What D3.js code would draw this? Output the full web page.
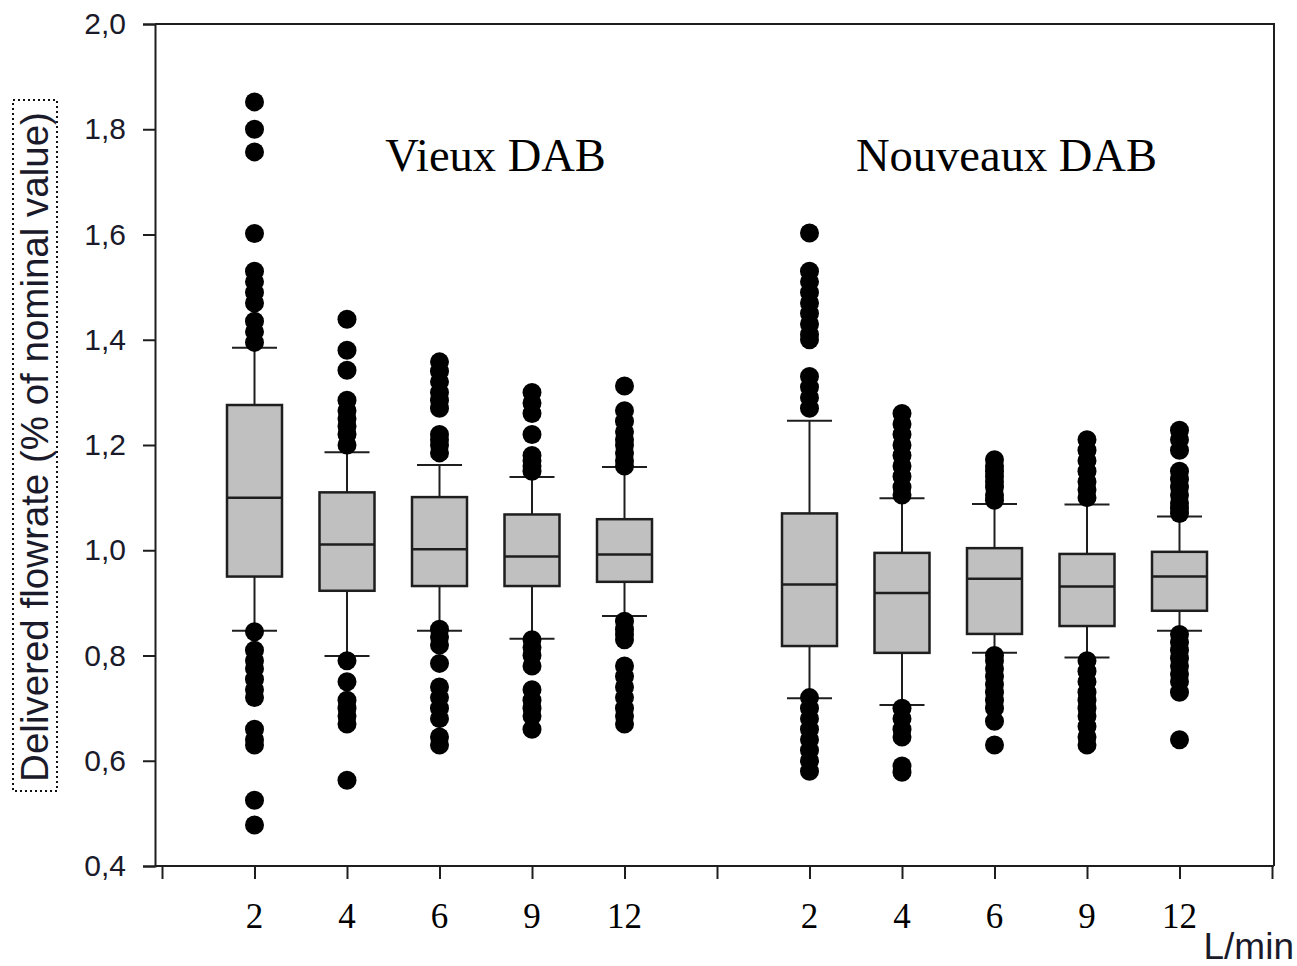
<!DOCTYPE html>
<html>
<head>
<meta charset="utf-8">
<script src="https://cdn.jsdelivr.net/npm/d3@7"></script>
<style>
  body { margin: 0; background: #fff; }
  svg { display: block; }
</style>
</head>
<body>
<svg id="chart" width="1297" height="966"></svg>
<script>
const groups = ["Vieux DAB", "Nouveaux DAB"];
const categories = ["2", "4", "6", "9", "12"];
const yTicks = [0.4, 0.6, 0.8, 1.0, 1.2, 1.4, 1.6, 1.8, 2.0];

// box statistics per group, in category order
const whiskerLow  = [[0.847, 0.799, 0.847, 0.832, 0.875], [0.719, 0.706, 0.805, 0.796, 0.847]];
const q1          = [[0.950, 0.923, 0.932, 0.932, 0.940], [0.818, 0.805, 0.841, 0.856, 0.885]];
const median      = [[1.100, 1.011, 1.002, 0.988, 0.992], [0.935, 0.919, 0.946, 0.931, 0.950]];
const q3          = [[1.276, 1.110, 1.101, 1.068, 1.059], [1.070, 0.995, 1.004, 0.993, 0.997]];
const whiskerHigh = [[1.385, 1.186, 1.162, 1.139, 1.158], [1.246, 1.099, 1.088, 1.087, 1.064]];

const outliers = [
  [
    [1.852, 1.80, 1.757, 1.602, 1.53, 1.51, 1.49, 1.47, 1.435, 1.415, 1.395,
     0.845, 0.81, 0.79, 0.775, 0.755, 0.735, 0.72, 0.66, 0.64, 0.63, 0.525, 0.478],
    [1.439, 1.38, 1.342, 1.285, 1.265, 1.25, 1.235, 1.22, 1.20,
     0.79, 0.75, 0.715, 0.70, 0.685, 0.67, 0.563],
    [1.358, 1.34, 1.32, 1.30, 1.285, 1.27, 1.22, 1.21, 1.20, 1.185,
     0.85, 0.835, 0.82, 0.785, 0.74, 0.72, 0.70, 0.68, 0.645, 0.63],
    [1.30, 1.28, 1.26, 1.22, 1.18, 1.17, 1.16, 1.15,
     0.83, 0.815, 0.80, 0.78, 0.735, 0.715, 0.70, 0.685, 0.66],
    [1.312, 1.265, 1.245, 1.225, 1.21, 1.20, 1.185, 1.17, 1.16,
     0.865, 0.85, 0.84, 0.83, 0.78, 0.76, 0.74, 0.72, 0.70, 0.685, 0.67]
  ],
  [
    [1.603, 1.53, 1.51, 1.49, 1.47, 1.45, 1.43, 1.41, 1.40, 1.33, 1.31, 1.29, 1.27,
     0.72, 0.70, 0.68, 0.66, 0.64, 0.62, 0.60, 0.58],
    [1.26, 1.24, 1.22, 1.20, 1.18, 1.16, 1.14, 1.12, 1.105,
     0.70, 0.68, 0.66, 0.645, 0.59, 0.578],
    [1.172, 1.16, 1.15, 1.14, 1.13, 1.12, 1.105, 1.095,
     0.80, 0.79, 0.775, 0.76, 0.745, 0.73, 0.715, 0.70, 0.675, 0.63],
    [1.21, 1.19, 1.17, 1.15, 1.13, 1.115, 1.10,
     0.79, 0.77, 0.75, 0.73, 0.715, 0.70, 0.685, 0.665, 0.645, 0.63],
    [1.228, 1.21, 1.19, 1.15, 1.135, 1.12, 1.105, 1.09, 1.08, 1.07,
     0.84, 0.825, 0.81, 0.795, 0.78, 0.765, 0.75, 0.73, 0.64]
  ]
];

const svg = d3.select("#chart");
const plotLeft = 155, plotRight = 1274, plotTop = 24, plotBottom = 866;

const x = d3.scaleLinear().domain([0, 12]).range([162, 1272]);
const y = d3.scaleLinear().domain([0.4, 2.0]).range([plotBottom, plotTop]);

const boxW = 55, capW = 45;
const ink = "#1e1e1e";

// frame
svg.append("path")
  .attr("d", `M${plotLeft},${plotTop}H${plotRight}V${plotBottom}`)
  .attr("fill", "none").attr("stroke", ink).attr("stroke-width", 2);

// boxes
const boxes = [];
groups.forEach((g, gi) => {
  categories.forEach((c, ci) => {
    boxes.push({
      cx: x(gi * 6 + ci + 1),
      lo: whiskerLow[gi][ci], q1: q1[gi][ci], med: median[gi][ci],
      q3: q3[gi][ci], hi: whiskerHigh[gi][ci], out: outliers[gi][ci]
    });
  });
});

const bg = svg.append("g").selectAll("g").data(boxes).join("g");

bg.append("line")
  .attr("x1", d => d.cx).attr("x2", d => d.cx)
  .attr("y1", d => y(d.hi)).attr("y2", d => y(d.lo))
  .attr("stroke", ink).attr("stroke-width", 2);
bg.selectAll("line.cap").data(d => [[d.cx, d.hi], [d.cx, d.lo]]).join("line")
  .attr("class", "cap")
  .attr("x1", d => d[0] - capW / 2).attr("x2", d => d[0] + capW / 2)
  .attr("y1", d => y(d[1])).attr("y2", d => y(d[1]))
  .attr("stroke", ink).attr("stroke-width", 2);
bg.append("rect")
  .attr("x", d => d.cx - boxW / 2).attr("width", boxW)
  .attr("y", d => y(d.q3)).attr("height", d => y(d.q1) - y(d.q3))
  .attr("fill", "#c0c0c0").attr("stroke", ink).attr("stroke-width", 2.5);
bg.append("line")
  .attr("x1", d => d.cx - boxW / 2).attr("x2", d => d.cx + boxW / 2)
  .attr("y1", d => y(d.med)).attr("y2", d => y(d.med))
  .attr("stroke", ink).attr("stroke-width", 2.5);
bg.selectAll("circle").data(d => d.out.map(v => [d.cx, v])).join("circle")
  .attr("cx", d => d[0]).attr("cy", d => y(d[1])).attr("r", 9.5)
  .attr("fill", "#000");

// y axis
const yAxisG = svg.append("g")
  .attr("transform", `translate(${plotLeft},0)`)
  .call(d3.axisLeft(y).tickValues(yTicks).tickSize(12).tickPadding(17)
    .tickFormat(d => d3.format(".1f")(d).replace(".", ",")));
yAxisG.select(".domain").attr("stroke", ink).attr("stroke-width", 2);
yAxisG.selectAll(".tick line").attr("stroke", ink).attr("stroke-width", 2);
yAxisG.selectAll("text")
  .attr("font-family", "Liberation Sans, Arial, sans-serif")
  .attr("font-size", 30).attr("fill", "#1a1a2a");

// x axis
const xAxisG = svg.append("g")
  .attr("transform", `translate(0,${plotBottom})`)
  .call(d3.axisBottom(x).tickValues(d3.range(0, 13)).tickSize(13).tickFormat(""));
xAxisG.select(".domain").attr("d", `M${plotLeft},0H${plotRight}`)
  .attr("stroke", ink).attr("stroke-width", 2);
xAxisG.selectAll(".tick line").attr("stroke", ink).attr("stroke-width", 2);

svg.append("g").selectAll("text").data(boxes.map((b, i) => [b.cx, categories[i % 5]]))
  .join("text")
  .attr("x", d => d[0]).attr("y", 928)
  .attr("text-anchor", "middle")
  .attr("font-family", "Liberation Serif, Times New Roman, serif")
  .attr("font-size", 35).attr("fill", "#000")
  .text(d => d[1]);

svg.append("text")
  .attr("x", 1294).attr("y", 959).attr("text-anchor", "end")
  .attr("font-family", "Liberation Sans, Arial, sans-serif")
  .attr("font-size", 37).attr("fill", "#1a1a2a")
  .text("L/min");

// group titles
svg.append("g").selectAll("text").data(groups).join("text")
  .attr("x", (d, i) => (x(i * 6 + 1) + x(i * 6 + 5)) / 2 + (i === 0 ? 56 : 12))
  .attr("y", 171)
  .attr("text-anchor", "middle")
  .attr("font-family", "Liberation Serif, Times New Roman, serif")
  .attr("font-size", 46.5).attr("fill", "#000")
  .text(d => d);

// y axis title with dotted focus box
svg.append("rect")
  .attr("x", 13).attr("y", 100).attr("width", 44).attr("height", 691)
  .attr("fill", "none").attr("stroke", "#111").attr("stroke-width", 2)
  .attr("stroke-dasharray", "2,3");
svg.append("text")
  .attr("transform", "translate(48,447) rotate(-90)")
  .attr("text-anchor", "middle")
  .attr("font-family", "Liberation Sans, Arial, sans-serif")
  .attr("font-size", 38.5).attr("fill", "#1a1a2a")
  .text("Delivered flowrate (% of nominal value)");
</script>
</body>
</html>
